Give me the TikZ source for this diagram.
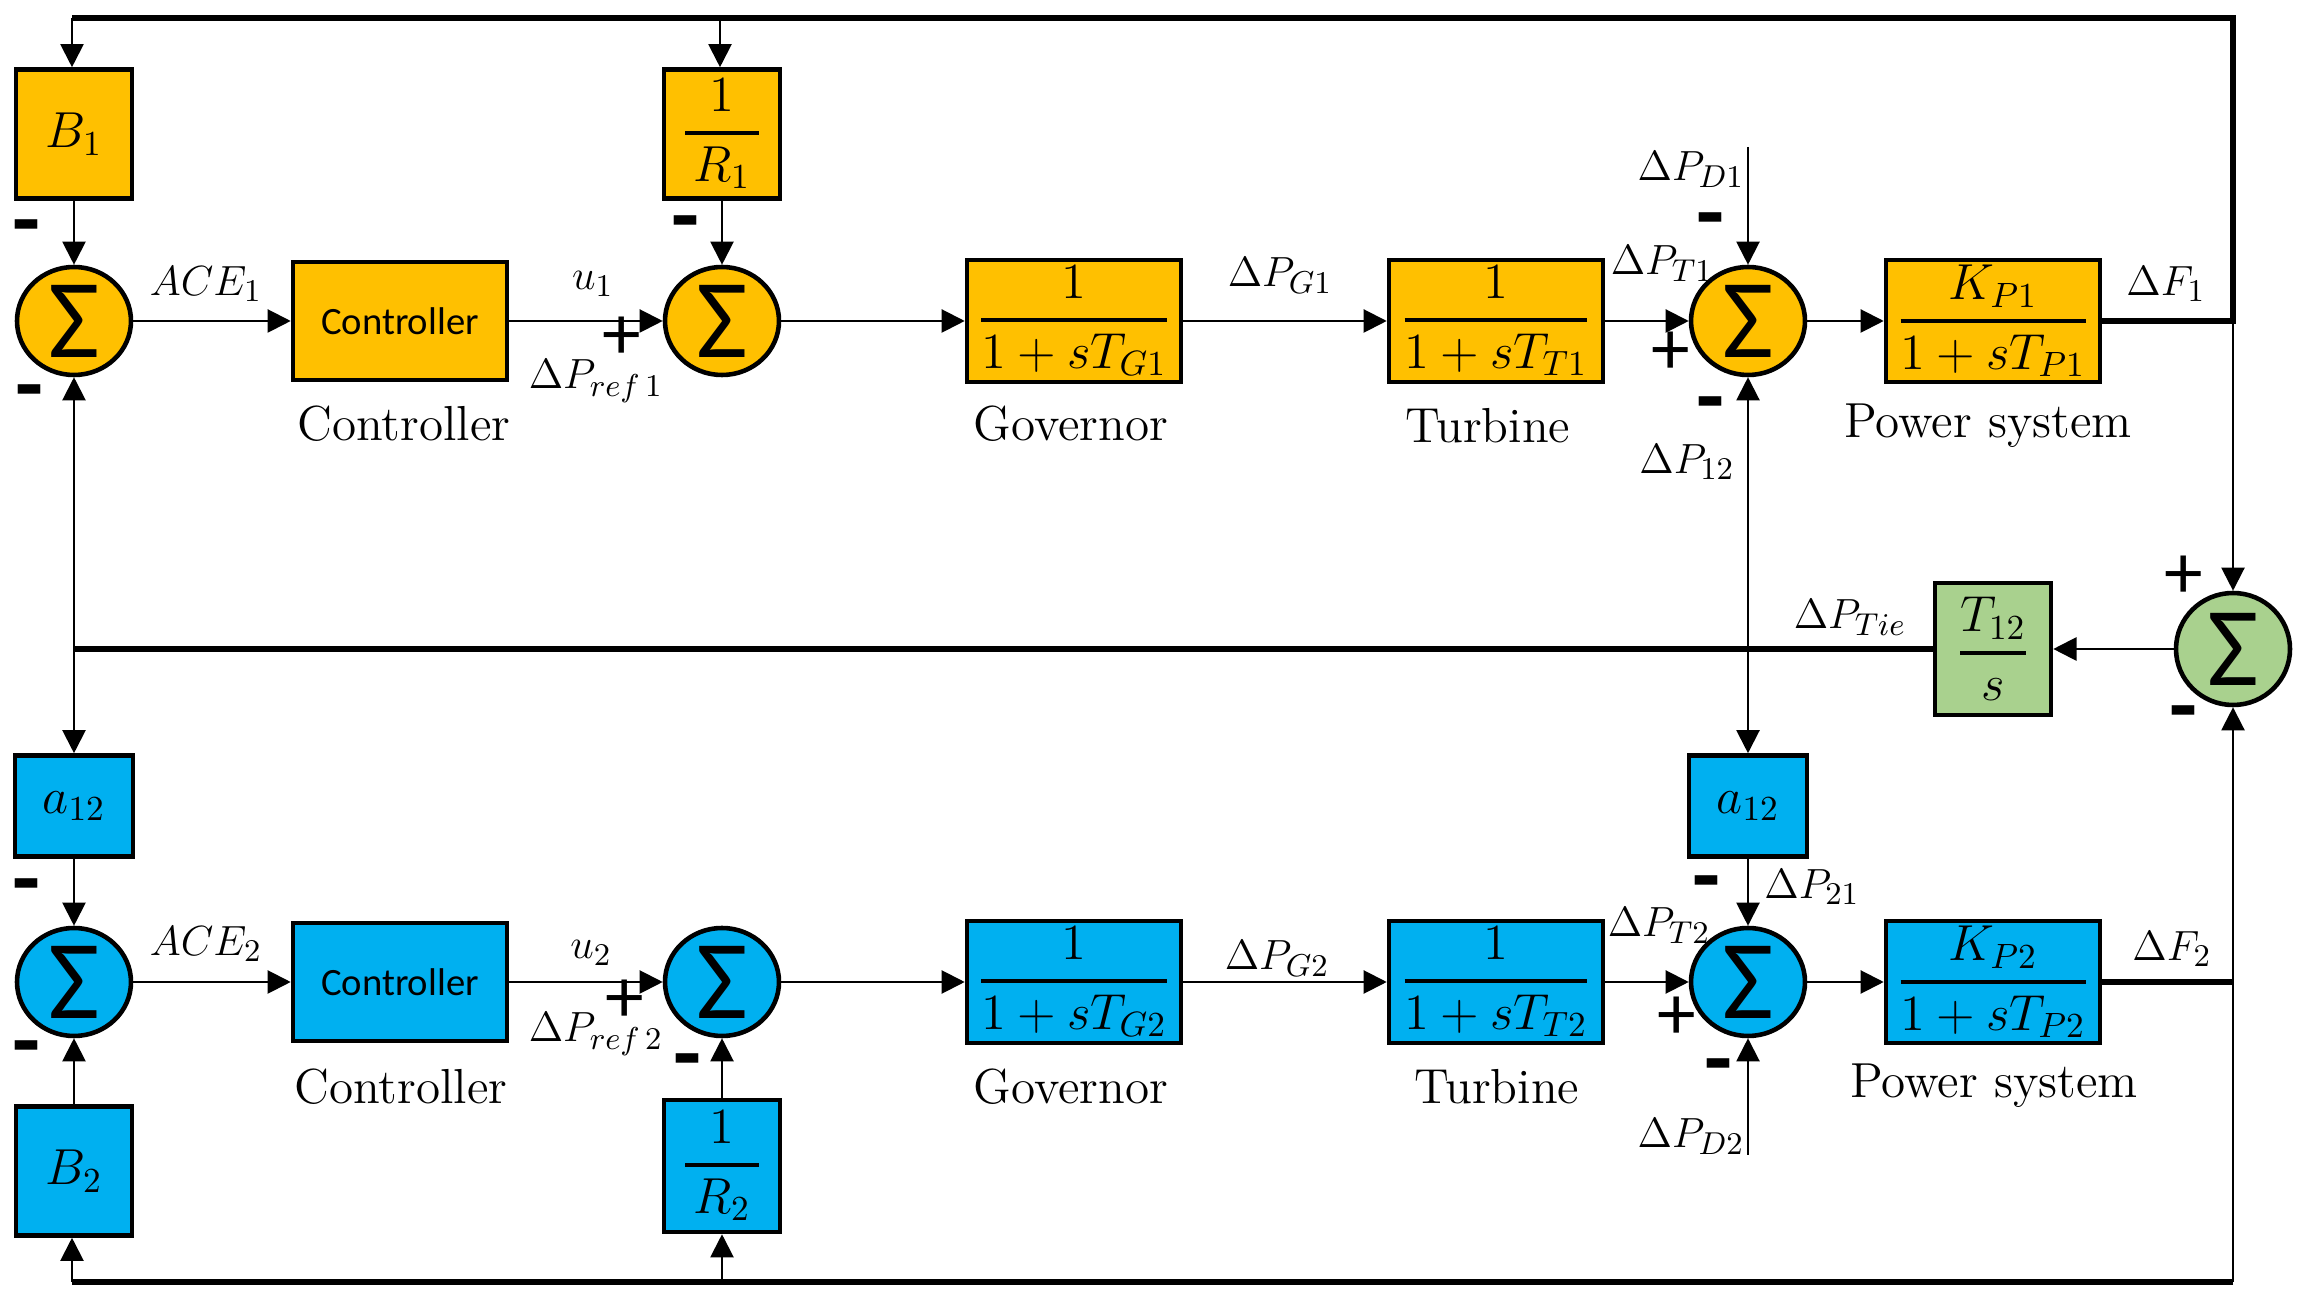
\documentclass[tikz,border=0pt]{standalone}
\usepackage{amsmath}
\usepackage{fontspec}
\newfontfamily\blockfont{Carlito}
\usetikzlibrary{positioning,calc,arrows.meta,shapes.geometric}

\definecolor{areaone}{HTML}{FFC000}
\definecolor{areatwo}{HTML}{00B0F0}
\definecolor{tiegreen}{HTML}{A9D18E}
\newcommand{\blockfrac}[2]{\genfrac{}{}{1.1pt}{0}{#1}{#2}}

\begin{document}
\begin{tikzpicture}[
  block/.style={
    draw, line width=1.3pt,
    minimum width=2.14cm, minimum height=1.22cm,
    inner sep=1pt, font=\fontsize{14}{16}\selectfont
  },
  gain/.style={block, minimum width=1.16cm, minimum height=1.29cm},
  ctrlbox/.style={block, font=\blockfont\fontsize{11}{13}\selectfont},
  summer/.style={
    draw, ellipse, line width=1.3pt,
    minimum width=1.14cm, minimum height=1.08cm, inner sep=0pt,
    font=\blockfont\fontsize{32}{32}\selectfont
  },
  arr/.style={-{Triangle[length=6.6pt,width=6.6pt]}, line width=0.6pt},
  bus/.style={line width=1.5pt},
  lbl/.style={font=\fontsize{12.5}{14}\selectfont, inner sep=0pt},
  captxt/.style={font=\fontsize{14}{16}\selectfont, inner sep=0pt},
  sgnminus/.style={font=\blockfont\bfseries\fontsize{26}{26}\selectfont, inner sep=0pt},
  sgnplus/.style={font=\blockfont\fontsize{22}{22}\selectfont, inner sep=0pt},
]
\useasboundingbox (0,0) rectangle (23.06,-13.0);

%% --- Area 1 blocks --------------------------------------------------
\node[gain, fill=areaone]   (bias1)  at (0.74,-1.34)  {$B_1$};
\node[gain, fill=areaone]   (droop1) at (7.22,-1.34)  {$\blockfrac{\,1\,}{\,R_1\,}$};
\node[summer, fill=areaone] (sum11)  at (0.74,-3.21)  {Σ};
\node[ctrlbox, fill=areaone, minimum height=1.18cm] (ctrl1) at (4.00,-3.21) {Controller};
\node[summer, fill=areaone] (sum12)  at (7.22,-3.21)  {Σ};
\node[block, fill=areaone]  (gov1)   at (10.74,-3.21) {$\blockfrac{1}{1+sT_{G1}}$};
\node[block, fill=areaone]  (turb1)  at (14.96,-3.21) {$\blockfrac{1}{1+sT_{T1}}$};
\node[summer, fill=areaone] (sum13)  at (17.48,-3.21) {Σ};
\node[block, fill=areaone]  (pow1)   at (19.93,-3.21) {$\blockfrac{K_{P1}}{1+sT_{P1}}$};

\node[captxt] at (4.04,-4.24)  {Controller};
\node[captxt] at (10.71,-4.24) {Governor};
\node[captxt] at (14.88,-4.26) {Turbine};
\node[captxt] at (19.88,-4.26) {Power system};

%% --- Tie-line blocks ------------------------------------------------
\node[gain, fill=tiegreen, minimum height=1.32cm] (tie) at (19.93,-6.49) {$\blockfrac{T_{12}}{s}$};
\node[summer, fill=tiegreen, minimum height=1.12cm] (sumtie) at (22.33,-6.49) {Σ};

%% --- Area 2 blocks --------------------------------------------------
\node[gain, fill=areatwo, minimum width=1.18cm, minimum height=1.01cm] (tieg1) at (0.74,-8.06)  {$a_{12}$};
\node[gain, fill=areatwo, minimum width=1.18cm, minimum height=1.01cm] (tieg2) at (17.48,-8.06) {$a_{12}$};
\node[summer, fill=areatwo] (sum21)  at (0.74,-9.82)  {Σ};
\node[ctrlbox, fill=areatwo, minimum height=1.18cm] (ctrl2) at (4.00,-9.82) {Controller};
\node[summer, fill=areatwo] (sum22)  at (7.22,-9.82)  {Σ};
\node[block, fill=areatwo]  (gov2)   at (10.74,-9.82) {$\blockfrac{1}{1+sT_{G2}}$};
\node[block, fill=areatwo]  (turb2)  at (14.96,-9.82) {$\blockfrac{1}{1+sT_{T2}}$};
\node[summer, fill=areatwo] (sum23)  at (17.48,-9.82) {Σ};
\node[block, fill=areatwo]  (pow2)   at (19.93,-9.82) {$\blockfrac{K_{P2}}{1+sT_{P2}}$};
\node[gain, fill=areatwo]   (bias2)  at (0.74,-11.71) {$B_2$};
\node[gain, fill=areatwo, minimum height=1.32cm] (droop2) at (7.22,-11.66) {$\blockfrac{\,1\,}{\,R_2\,}$};

\node[captxt] at (4.01,-10.87)  {Controller};
\node[captxt] at (10.71,-10.87) {Governor};
\node[captxt] at (14.97,-10.87) {Turbine};
\node[captxt] at (19.94,-10.86) {Power system};

%% --- Junction points ------------------------------------------------
\coordinate (df1)    at (22.33,-3.21);
\coordinate (topR)   at (22.33,-0.18);
\coordinate (topL)   at (0.72,-0.18);
\coordinate (topM)   at (7.20,-0.18);
\coordinate (load1)  at (17.48,-1.47);
\coordinate (tieL)   at (0.74,-6.49);
\coordinate (tieM)   at (17.48,-6.49);
\coordinate (df2)    at (22.33,-9.82);
\coordinate (botR)   at (22.33,-12.82);
\coordinate (botL)   at (0.72,-12.82);
\coordinate (botM)   at (7.22,-12.82);
\coordinate (load2)  at (17.48,-11.55);

%% --- Area 1 forward path and feedback -------------------------------
\draw[arr] (sum11) -- (ctrl1);
\draw[arr] (ctrl1) -- (sum12);
\draw[arr] (sum12) -- (gov1);
\draw[arr] (gov1)  -- (turb1);
\draw[arr] (turb1) -- (sum13);
\draw[arr] (sum13) -- (pow1);
\draw[arr] (bias1)  -- (sum11);
\draw[arr] (droop1) -- (sum12);
\draw[arr] (load1)  -- (sum13);
\draw[bus] (pow1.east) -- (df1) -- (topR) -- (topL);
\draw[arr] (topL) -- (topL |- bias1.north);
\draw[arr] (topM) -- (topM |- droop1.north);
\draw[arr] (df1)  -- (sumtie);

%% --- Tie line -------------------------------------------------------
\draw[arr] (sumtie) -- (tie);
\draw[bus] (tie.west) -- (tieL);
\draw[arr] (tieL) -- (sum11);
\draw[arr] (tieL) -- (tieg1);
\draw[arr] (tieM) -- (sum13);
\draw[arr] (tieM) -- (tieg2);

%% --- Area 2 forward path and feedback -------------------------------
\draw[arr] (tieg1) -- (sum21);
\draw[arr] (bias2) -- (sum21);
\draw[arr] (sum21) -- (ctrl2);
\draw[arr] (ctrl2) -- (sum22);
\draw[arr] (sum22) -- (gov2);
\draw[arr] (gov2)  -- (turb2);
\draw[arr] (turb2) -- (sum23);
\draw[arr] (sum23) -- (pow2);
\draw[arr] (droop2) -- (sum22);
\draw[arr] (tieg2)  -- (sum23);
\draw[arr] (load2)  -- (sum23);
\draw[bus] (pow2.east) -- (df2);
\draw[line width=0.6pt] (df2) -- (botR);
\draw[bus] (botR) -- (botL);
\draw[arr] (botL) -- (botL |- bias2.south);
\draw[arr] (botM) -- (droop2);
\draw[arr] (df2)  -- (sumtie);

%% --- Signal labels --------------------------------------------------
\node[lbl] at (2.06,-2.84)   {$ACE_1$};
\node[lbl] at (5.93,-2.84)   {$u_1$};
\node[lbl] at (5.96,-3.81)   {$\Delta P_{ref\,1}$};
\node[lbl] at (12.80,-2.76)  {$\Delta P_{G1}$};
\node[lbl] at (16.62,-2.64)  {$\Delta P_{T1}$};
\node[lbl] at (16.91,-1.70)  {$\Delta P_{D1}$};
\node[lbl] at (16.87,-4.62)  {$\Delta P_{12}$};
\node[lbl] at (21.66,-2.84)  {$\Delta F_1$};
\node[lbl] at (18.50,-6.18)  {$\Delta P_{Tie}$};
\node[lbl] at (2.06,-9.44)   {$ACE_2$};
\node[lbl] at (5.91,-9.53)   {$u_2$};
\node[lbl] at (5.96,-10.34)  {$\Delta P_{ref\,2}$};
\node[lbl] at (12.77,-9.59)  {$\Delta P_{G2}$};
\node[lbl] at (16.59,-9.26)  {$\Delta P_{T2}$};
\node[lbl] at (18.12,-8.87)  {$\Delta P_{21}$};
\node[lbl] at (16.91,-11.37) {$\Delta P_{D2}$};
\node[lbl] at (21.72,-9.49)  {$\Delta F_2$};

%% --- Summing signs --------------------------------------------------
\node[sgnminus] at (0.26,-2.35)  {-};
\node[sgnminus] at (0.29,-4.00)  {-};
\node[sgnminus] at (6.85,-2.31)  {-};
\node[sgnplus]  at (6.22,-3.38)  {+};
\node[sgnminus] at (17.10,-2.28) {-};
\node[sgnplus]  at (16.71,-3.53) {+};
\node[sgnminus] at (17.10,-4.12) {-};
\node[sgnplus]  at (21.84,-5.77) {+};
\node[sgnminus] at (21.83,-7.21) {-};
\node[sgnminus] at (0.26,-8.94)  {-};
\node[sgnminus] at (0.26,-10.56) {-};
\node[sgnplus]  at (6.25,-10.01) {+};
\node[sgnminus] at (6.87,-10.69) {-};
\node[sgnminus] at (17.06,-8.91) {-};
\node[sgnplus]  at (16.77,-10.18) {+};
\node[sgnminus] at (17.18,-10.74) {-};

\end{tikzpicture}
\end{document}
